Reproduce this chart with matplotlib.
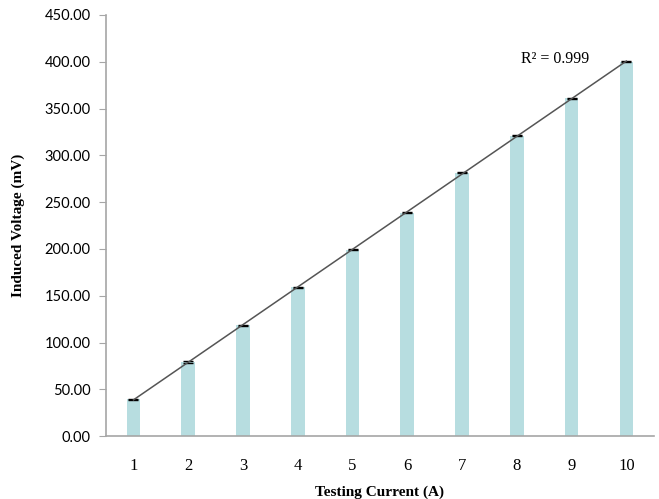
import matplotlib
matplotlib.use('Agg')
import matplotlib.pyplot as plt
import numpy as np

# testing current (A) and induced voltage (mV)
current = [1, 2, 3, 4, 5, 6, 7, 8, 9, 10]
voltage = [39.4, 79.2, 118.3, 159.2, 199.4, 238.5, 281.5, 320.8, 361.0, 400.0]
err = [0.6, 0.6, 0.6, 0.6, 0.6, 0.6, 0.6, 0.6, 0.6, 0.6]
r2_label = 'R² = 0.999'

fig = plt.figure(figsize=(6.59, 4.99), dpi=100)
ax = fig.add_axes([0.161, 0.126, 0.831, 0.844])

ax.bar(current, voltage, width=0.25, color='#b7dde0', zorder=2)
ax.errorbar(current, voltage, yerr=err, fmt='none', ecolor='black',
            elinewidth=0.8, capsize=3.5, capthick=1.0, zorder=3)

# linear trendline
k, b = np.polyfit(current, voltage, 1)
xs = np.array([current[0], current[-1]])
ax.plot(xs, k * xs + b, color='#555555', lw=1.1, zorder=4)
ax.text(8.7, 394, r2_label, fontsize=11.5, family='Liberation Serif',
        ha='center', va='bottom')

ax.set_xlim(0.5, 10.5)
ax.set_ylim(0, 450)
ax.set_yticks(np.arange(0, 451, 50))
ax.set_yticklabels([f'{v:.2f}' for v in np.arange(0, 451, 50)],
                   family='Lato', fontsize=10.5)
ax.set_xticks(current)
ax.set_xticklabels([str(c) for c in current], family='Liberation Serif', fontsize=12)

for s in ['top', 'right']:
    ax.spines[s].set_visible(False)
for s in ['left', 'bottom']:
    ax.spines[s].set_color('#a6a6a6')
    ax.spines[s].set_linewidth(1.2)
ax.tick_params(axis='y', direction='out', length=5, color='#a6a6a6', pad=6)
ax.tick_params(axis='x', length=0, pad=16)

ax.set_xlabel('Testing Current (A)', family='Liberation Serif', fontweight='bold',
              fontsize=11, labelpad=8)
ax.set_ylabel('Induced Voltage (mV)', family='Liberation Serif', fontweight='bold',
              fontsize=11, labelpad=14)

fig.savefig('out.png', dpi=100)
